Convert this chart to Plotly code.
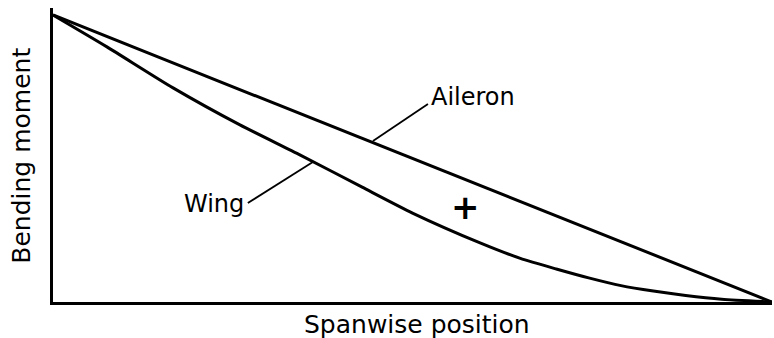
import numpy as np
import plotly.graph_objects as go

# Spanwise position (0 = root, 1 = tip), normalised
aileron_x = [0.0, 1.0]
aileron_m = [1.0, 0.0]

wing_x = [0.0, 0.075, 0.167, 0.26, 0.344, 0.43, 0.50, 0.594, 0.65, 0.70,
          0.745, 0.79, 0.835, 0.88, 0.93, 1.0]
wing_m = [1.0, 0.889, 0.746, 0.617, 0.512, 0.40, 0.31, 0.206, 0.152, 0.115,
          0.084, 0.057, 0.038, 0.023, 0.01, 0.0]

label_aileron = "Aileron"
label_wing = "Wing"
title_x = "Spanwise position"
title_y = "Bending moment"

FONT = "DejaVu Sans"
INK = "black"

fig = go.Figure()
fig.add_trace(go.Scatter(x=aileron_x, y=aileron_m, mode="lines",
                         line=dict(color=INK, width=3), name=label_aileron,
                         hoverinfo="skip"))
fig.add_trace(go.Scatter(x=wing_x, y=wing_m, mode="lines",
                         line=dict(color=INK, width=3, shape="spline", smoothing=0.6),
                         name=label_wing, hoverinfo="skip"))

# leader lines from the curves to their labels
ax0 = 0.445
ay0 = float(np.interp(ax0, aileron_x, aileron_m))
wx0 = 0.362
wy0 = float(np.interp(wx0, wing_x, wing_m))
fig.add_shape(type="line", x0=ax0, y0=ay0 + 0.006, x1=0.5215, y1=0.690,
              line=dict(color=INK, width=1.8))
fig.add_shape(type="line", x0=wx0, y0=wy0, x1=0.271, y1=0.345,
              line=dict(color=INK, width=1.8))

fig.add_annotation(x=0.523, y=0.714, text=label_aileron, showarrow=False,
                   xanchor="left", yanchor="middle",
                   font=dict(family=FONT, size=24, color=INK))
fig.add_annotation(x=0.268, y=0.341, text=label_wing, showarrow=False,
                   xanchor="right", yanchor="middle",
                   font=dict(family=FONT, size=24, color=INK))
fig.add_annotation(x=0.574, y=0.331, text="+", showarrow=False,
                   xanchor="center", yanchor="middle",
                   font=dict(family=FONT, size=34, color=INK, weight="bold"))

# axis titles, placed in paper coordinates outside the plot area
fig.add_annotation(xref="paper", yref="paper", x=0.506, y=-0.078, text=title_x,
                   showarrow=False, xanchor="center", yanchor="middle",
                   font=dict(family=FONT, size=25, color=INK))
fig.add_annotation(xref="paper", yref="paper", x=-0.043, y=0.498, text=title_y,
                   showarrow=False, textangle=-90, xanchor="center", yanchor="middle",
                   font=dict(family=FONT, size=25, color=INK))

fig.update_layout(
    width=774, height=338,
    margin=dict(l=53, r=2, t=8, b=36),
    paper_bgcolor="white", plot_bgcolor="white",
    showlegend=False,
    xaxis=dict(range=[0, 1], showgrid=False, zeroline=False, showticklabels=False,
               ticks="", showline=True, linecolor=INK, linewidth=3, fixedrange=True),
    yaxis=dict(range=[0, 1.0244], showgrid=False, zeroline=False, showticklabels=False,
               ticks="", showline=True, linecolor=INK, linewidth=3, fixedrange=True),
)

fig.write_html("out.html", config={"displayModeBar": False})
